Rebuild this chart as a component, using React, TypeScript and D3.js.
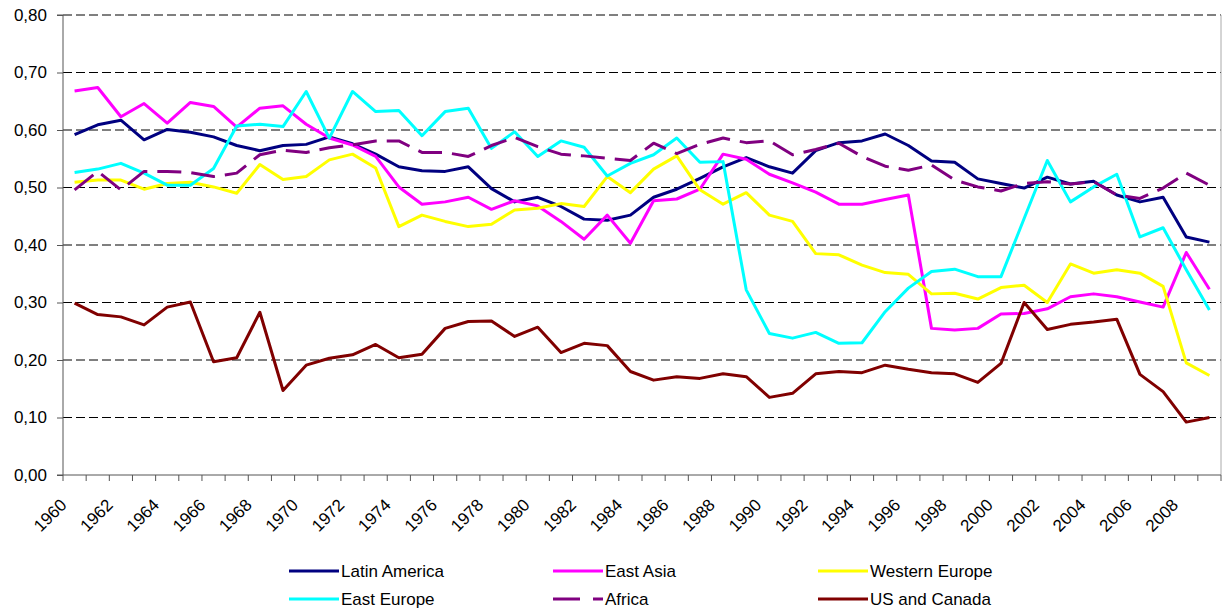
import React, { useEffect, useRef } from "react";
import * as d3 from "d3";

const years = d3.range(1960, 2010);
const yTicks = [0, 0.1, 0.2, 0.3, 0.4, 0.5, 0.6, 0.7, 0.8];

const latinAmerica = [0.592, 0.609, 0.617, 0.583, 0.601, 0.596, 0.588, 0.573, 0.564, 0.573, 0.575, 0.588, 0.576, 0.558, 0.536, 0.529, 0.528, 0.536, 0.498, 0.475, 0.483, 0.467, 0.445, 0.443, 0.452, 0.483, 0.497, 0.516, 0.536, 0.552, 0.536, 0.525, 0.564, 0.578, 0.581, 0.593, 0.573, 0.546, 0.544, 0.515, 0.507, 0.499, 0.518, 0.506, 0.511, 0.487, 0.475, 0.483, 0.414, 0.405];
const eastAsia = [0.668, 0.674, 0.623, 0.646, 0.612, 0.648, 0.641, 0.605, 0.638, 0.642, 0.61, 0.586, 0.574, 0.554, 0.501, 0.471, 0.475, 0.483, 0.462, 0.477, 0.468, 0.441, 0.41, 0.452, 0.403, 0.477, 0.48, 0.497, 0.558, 0.549, 0.523, 0.508, 0.492, 0.471, 0.471, 0.479, 0.487, 0.255, 0.252, 0.255, 0.28, 0.281, 0.289, 0.31, 0.315, 0.31, 0.301, 0.292, 0.387, 0.323];
const westernEurope = [0.509, 0.513, 0.513, 0.497, 0.507, 0.509, 0.501, 0.49, 0.54, 0.514, 0.519, 0.548, 0.558, 0.534, 0.432, 0.452, 0.441, 0.432, 0.436, 0.461, 0.464, 0.472, 0.467, 0.519, 0.491, 0.532, 0.555, 0.496, 0.471, 0.491, 0.452, 0.441, 0.385, 0.383, 0.365, 0.352, 0.349, 0.315, 0.316, 0.306, 0.326, 0.33, 0.3, 0.367, 0.351, 0.357, 0.351, 0.328, 0.195, 0.173];
const eastEurope = [0.526, 0.532, 0.542, 0.525, 0.504, 0.504, 0.533, 0.607, 0.61, 0.606, 0.667, 0.586, 0.667, 0.632, 0.634, 0.59, 0.632, 0.638, 0.568, 0.597, 0.554, 0.581, 0.57, 0.52, 0.542, 0.557, 0.586, 0.544, 0.545, 0.322, 0.246, 0.238, 0.248, 0.229, 0.23, 0.284, 0.325, 0.354, 0.358, 0.345, 0.345, 0.446, 0.547, 0.475, 0.501, 0.523, 0.414, 0.43, 0.357, 0.287];
const africa = [0.496, 0.528, 0.496, 0.528, 0.528, 0.526, 0.519, 0.525, 0.557, 0.565, 0.561, 0.569, 0.574, 0.581, 0.581, 0.561, 0.561, 0.554, 0.573, 0.587, 0.571, 0.558, 0.555, 0.551, 0.547, 0.577, 0.559, 0.575, 0.586, 0.578, 0.581, 0.557, 0.566, 0.577, 0.554, 0.537, 0.53, 0.539, 0.513, 0.501, 0.494, 0.507, 0.51, 0.506, 0.51, 0.487, 0.481, 0.499, 0.525, 0.504];
const usCanada = [0.299, 0.279, 0.275, 0.261, 0.292, 0.301, 0.197, 0.204, 0.283, 0.147, 0.191, 0.203, 0.209, 0.227, 0.204, 0.21, 0.255, 0.267, 0.268, 0.241, 0.257, 0.213, 0.229, 0.225, 0.18, 0.165, 0.171, 0.168, 0.176, 0.171, 0.135, 0.142, 0.176, 0.18, 0.178, 0.191, 0.184, 0.178, 0.176, 0.161, 0.194, 0.3, 0.253, 0.262, 0.266, 0.271, 0.175, 0.145, 0.092, 0.1];

const series = [
  { name: "Latin America", values: latinAmerica, color: "#000080", dash: null },
  { name: "East Asia", values: eastAsia, color: "#FF00FF", dash: null },
  { name: "Western Europe", values: westernEurope, color: "#FFFF00", dash: null },
  { name: "East Europe", values: eastEurope, color: "#00FFFF", dash: null },
  { name: "Africa", values: africa, color: "#800080", dash: "24 10" },
  { name: "US and Canada", values: usCanada, color: "#800000", dash: null },
];

const FONT = "Liberation Sans, Arial, sans-serif";

const Chart = () => {
  const svgRef = useRef<SVGSVGElement>(null);

  useEffect(() => {
    const dims = { width: 1225, height: 615, left: 63, right: 1221, top: 15, bottom: 475 };

    const x = d3.scaleBand<number>(years, [dims.left, dims.right]);
    const y = d3.scaleLinear([0, 0.8], [dims.bottom, dims.top]);
    const cx = (yr: number) => (x(yr) as number) + x.bandwidth() / 2;
    const fmt = (d: number) => d3.format(".2f")(d).replace(".", ",");

    const svg = d3.select(svgRef.current);
    svg.selectAll("*").remove();

    // grid lines
    svg
      .append("g")
      .selectAll("line")
      .data(yTicks.filter((d) => d > 0))
      .join("line")
      .attr("x1", dims.left)
      .attr("x2", dims.right)
      .attr("y1", (d) => y(d))
      .attr("y2", (d) => y(d))
      .attr("stroke", "#000")
      .attr("stroke-dasharray", "9 4");

    // right border
    svg
      .append("line")
      .attr("x1", dims.right)
      .attr("x2", dims.right)
      .attr("y1", dims.top)
      .attr("y2", dims.bottom)
      .attr("stroke", "#aaa");

    // y axis
    svg
      .append("g")
      .attr("transform", `translate(${dims.left},0)`)
      .call(d3.axisLeft(y).tickValues(yTicks).tickSize(6).tickPadding(10).tickFormat(fmt))
      .call((g) => g.select(".domain").attr("stroke", "#555").attr("d", `M-6,${dims.top}H0V${dims.bottom}`))
      .call((g) => g.selectAll(".tick line").attr("stroke", "#555"))
      .call((g) =>
        g.selectAll(".tick text").attr("font-size", 17).attr("font-family", FONT).attr("fill", "#000")
      );

    // x axis
    const gx = svg.append("g");
    gx.append("line")
      .attr("x1", dims.left - 6)
      .attr("x2", dims.right)
      .attr("y1", dims.bottom)
      .attr("y2", dims.bottom)
      .attr("stroke", "#555");
    gx.selectAll("line.tk")
      .data([...years.map((yr) => x(yr) as number), dims.right])
      .join("line")
      .attr("class", "tk")
      .attr("x1", (d) => d)
      .attr("x2", (d) => d)
      .attr("y1", dims.bottom)
      .attr("y2", dims.bottom + 6)
      .attr("stroke", "#555");
    gx.selectAll("text")
      .data(years.filter((yr) => yr % 2 === 0))
      .join("text")
      .attr("transform", (d) => `translate(${cx(d) - 7},${dims.bottom + 31}) rotate(-45)`)
      .attr("text-anchor", "end")
      .attr("font-size", 17)
      .attr("font-family", FONT)
      .text((d) => d);

    // series lines
    const line = d3
      .line<number>()
      .x((_, i) => cx(years[i]))
      .y((d) => y(d));

    svg
      .append("g")
      .selectAll("path")
      .data(series)
      .join("path")
      .attr("fill", "none")
      .attr("stroke", (s) => s.color)
      .attr("stroke-width", 3)
      .attr("stroke-linejoin", "round")
      .attr("stroke-dasharray", (s) => s.dash)
      .attr("d", (s) => line(s.values));

    // legend
    const colX = [289, 553, 818];
    const rowY = [571, 599];
    const lg = svg
      .append("g")
      .selectAll("g")
      .data(series)
      .join("g")
      .attr("transform", (_, i) => `translate(${colX[i % 3]},${rowY[Math.floor(i / 3)]})`);
    lg.append("line")
      .attr("x1", 0)
      .attr("x2", 50)
      .attr("stroke", (s) => s.color)
      .attr("stroke-width", 3)
      .attr("stroke-dasharray", (s) => (s.dash ? "27 13" : null));
    lg.append("text")
      .attr("x", 52)
      .attr("dy", "0.35em")
      .attr("font-size", 17)
      .attr("font-family", FONT)
      .text((s) => s.name);
  }, []);

  return <svg ref={svgRef} width={1225} height={615} style={{ display: "block" }} />;
};

export default function App() {
  return (
    <div style={{ position: "absolute", left: 0, top: 0, background: "#fff" }}>
      <Chart />
    </div>
  );
}
